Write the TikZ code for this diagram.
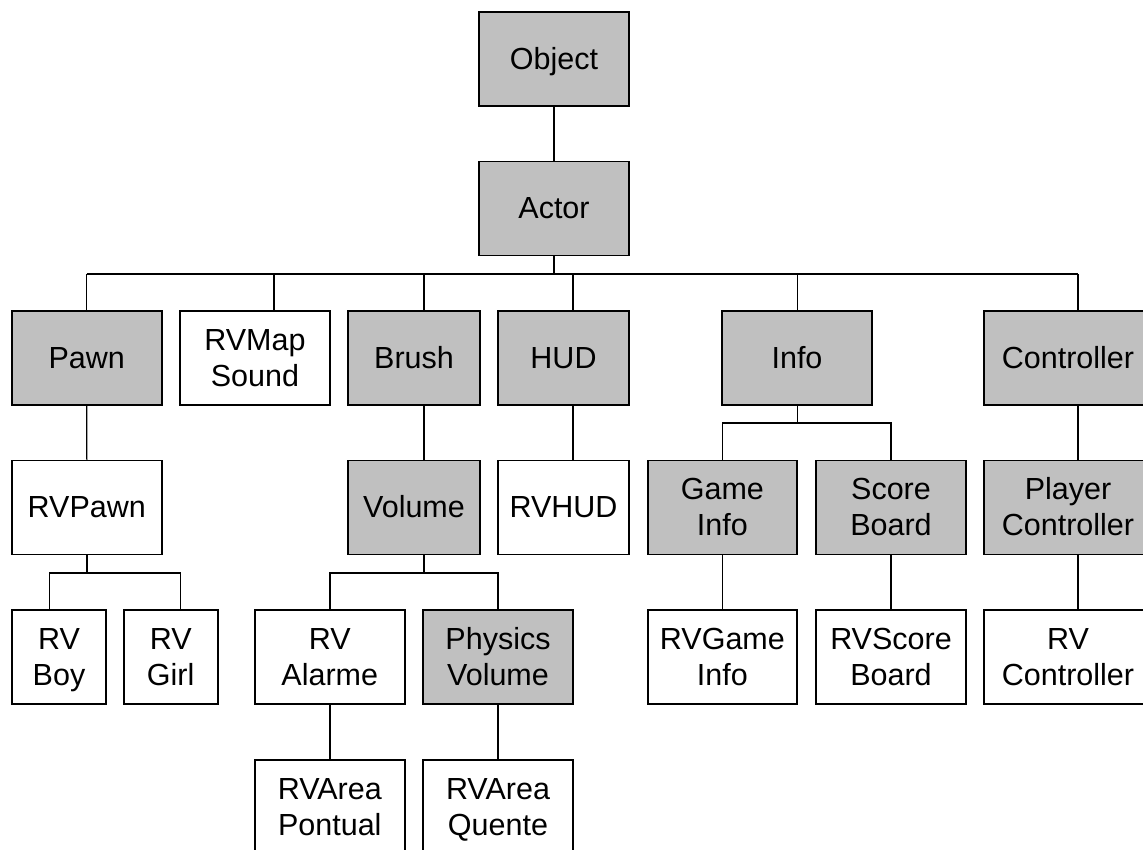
\documentclass[tikz,border=0pt]{standalone}
\usepackage{fontspec}
\setmainfont{Liberation Sans}
\newcommand\bxs{\rule[-8pt]{0pt}{36pt}}
\begin{document}
\begin{tikzpicture}[x=1pt,y=-1pt,
  bx/.style={draw=black,line width=1.6pt,inner sep=0pt,minimum height=94pt,align=center,font=\fontsize{30.5}{36}\selectfont},
  gbox/.style={bx,fill=boxgray},
  wbox/.style={bx,fill=white},
  link/.style={draw=black,line width=1.4pt}]
\definecolor{boxgray}{HTML}{C0C0C0}
\useasboundingbox (0,0) rectangle (1143,849);
\clip (0,0) rectangle (1143,849);
% row 0,1
\node[gbox,minimum width=150pt] (object) at (554,59) {\bxs Object};
\node[gbox,minimum width=150pt] (actor) at (554,208.5) {\bxs Actor};
% row 2
\node[gbox,minimum width=150pt] (pawn) at (86.7,358) {\bxs Pawn};
\node[wbox,minimum width=150pt] (mapsound) at (255,358) {\bxs RVMap\\\bxs Sound};
\node[gbox,minimum width=132pt] (brush) at (414,358) {\bxs Brush};
\node[gbox,minimum width=131pt] (hud) at (563.5,358) {\bxs HUD};
\node[gbox,minimum width=150pt] (info) at (797,358) {\bxs Info};
\node[gbox,minimum width=168pt] (controller) at (1068,358) {\bxs Controller};
% row 3
\node[wbox,minimum width=150pt] (rvpawn) at (86.8,507.5) {\bxs RVPawn};
\node[gbox,minimum width=132pt] (volume) at (414,507.5) {\bxs Volume};
\node[wbox,minimum width=131pt] (rvhud) at (563.5,507.5) {\bxs RVHUD};
\node[gbox,minimum width=149pt] (gameinfo) at (722.4,507.5) {\bxs Game\\\bxs Info};
\node[gbox,minimum width=150pt] (scoreboard) at (891,507.5) {\bxs Score\\\bxs Board};
\node[gbox,minimum width=168pt] (playerctrl) at (1068,507.5) {\bxs Player\\\bxs Controller};
% row 4
\node[wbox,minimum width=94pt] (rvboy) at (59,657) {\bxs RV\\\bxs Boy};
\node[wbox,minimum width=94pt] (rvgirl) at (170.7,657) {\bxs RV\\\bxs Girl};
\node[wbox,minimum width=150pt] (rvalarme) at (329.8,657) {\bxs RV\\\bxs Alarme};
\node[gbox,minimum width=150pt] (physvol) at (498,657) {\bxs Physics\\\bxs Volume};
\node[wbox,minimum width=149pt] (rvgameinfo) at (722.4,657) {\bxs RVGame\\\bxs Info};
\node[wbox,minimum width=150pt] (rvscore) at (891,657) {\bxs RVScore\\\bxs Board};
\node[wbox,minimum width=168pt] (rvctrl) at (1068,657) {\bxs RV\\\bxs Controller};
% row 5
\node[wbox,minimum width=150pt] (pontual) at (329.8,807) {\bxs RVArea\\\bxs Pontual};
\node[wbox,minimum width=150pt] (quente) at (498,807) {\bxs RVArea\\\bxs Quente};
% connector columns and bus levels
\coordinate (cPawn) at (86.7,0);
\coordinate (cMap) at (274,0);
\coordinate (cBrush) at (424,0);
\coordinate (cHud) at (573,0);
\coordinate (cInfo) at (797.7,0);
\coordinate (cCtrl) at (1078,0);
\coordinate (cBoy) at (49.4,0);
\coordinate (cGirl) at (180.6,0);
\coordinate (bus1) at (0,274);
\coordinate (bus2) at (0,423);
\coordinate (bus3) at (0,573);
% connectors
\path[link] (object) -- (actor);
\path[link] (actor.south) -- (bus1 -| actor);
\path[link] (bus1 -| cPawn) -- (bus1 -| cCtrl);
\path[link] (bus1 -| cPawn) -- (pawn.north);
\path[link] (bus1 -| cMap) -- (mapsound.north -| cMap);
\path[link] (bus1 -| cBrush) -- (brush.north -| cBrush);
\path[link] (bus1 -| cHud) -- (hud.north -| cHud);
\path[link] (bus1 -| cInfo) -- (info.north -| cInfo);
\path[link] (bus1 -| cCtrl) -- (controller.north -| cCtrl);
% pawn subtree
\path[link] (pawn.south) -- (rvpawn.north);
\path[link] (rvpawn.south) -- (bus3 -| rvpawn);
\path[link] (rvboy.north -| cBoy) -- (bus3 -| cBoy) -- (bus3 -| cGirl) -- (rvgirl.north -| cGirl);
% brush subtree
\path[link] (brush.south -| cBrush) -- (volume.north -| cBrush);
\path[link] (volume.south -| cBrush) -- (bus3 -| cBrush);
\path[link] (rvalarme.north) -- (bus3 -| rvalarme) -- (bus3 -| physvol) -- (physvol.north);
\path[link] (rvalarme.south) -- (pontual.north);
\path[link] (physvol.south) -- (quente.north);
% hud
\path[link] (hud.south -| cHud) -- (rvhud.north -| cHud);
% info subtree
\path[link] (info.south -| cInfo) -- (bus2 -| cInfo);
\path[link] (gameinfo.north) -- (bus2 -| gameinfo) -- (bus2 -| scoreboard) -- (scoreboard.north);
\path[link] (gameinfo.south) -- (rvgameinfo.north);
\path[link] (scoreboard.south) -- (rvscore.north);
% controller subtree
\path[link] (controller.south -| cCtrl) -- (playerctrl.north -| cCtrl);
\path[link] (playerctrl.south -| cCtrl) -- (rvctrl.north -| cCtrl);
\end{tikzpicture}
\end{document}
